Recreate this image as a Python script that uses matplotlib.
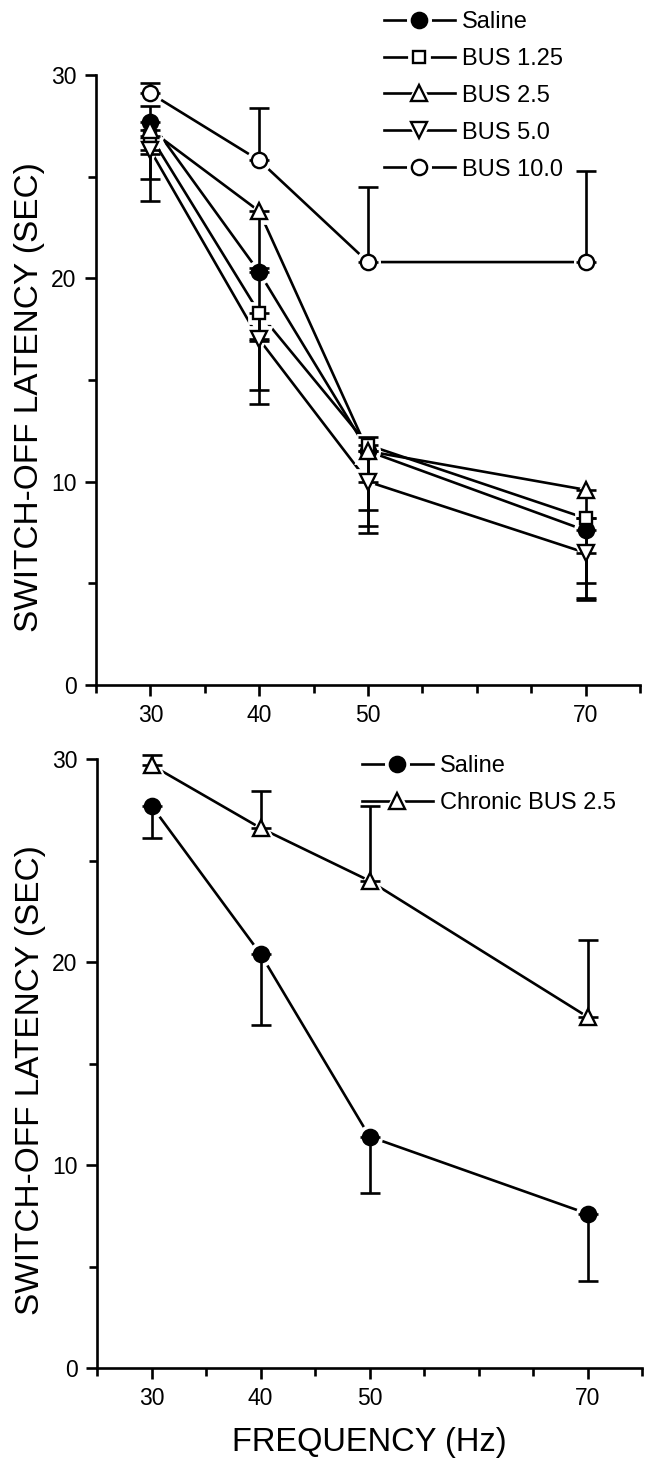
import numpy as np
import matplotlib
matplotlib.use("Agg")
import matplotlib.pyplot as plt
from matplotlib.ticker import MultipleLocator
from matplotlib.legend_handler import HandlerTuple

plt.rcParams['font.family'] = ['Liberation Sans', 'DejaVu Sans']

freq = [30, 40, 50, 70]

# top panel: means and one-sided error bar ends
top_names = ['Saline', 'BUS 1.25', 'BUS 2.5', 'BUS 5.0', 'BUS 10.0']
top_means = [
    [27.7, 20.3, 11.5, 7.6],
    [27.0, 18.3, 11.8, 8.2],
    [27.3, 23.3, 11.5, 9.6],
    [26.3, 17.0, 10.0, 6.5],
    [29.1, 25.8, 20.8, 20.8],
]
top_lower = [
    [26.1, 16.9, 8.6, 4.3],
    [24.9, 14.5, 7.8, 5.0],
    [27.3, 20.5, 11.5, 8.2],
    [23.8, 13.8, 7.5, 4.2],
    [29.1, 25.8, 20.8, 20.8],
]
top_upper = [
    [27.7, 20.3, 11.5, 7.6],
    [27.0, 18.3, 11.8, 8.2],
    [28.5, 23.3, 12.2, 9.6],
    [26.3, 17.0, 10.0, 6.5],
    [29.6, 28.4, 24.5, 25.3],
]

# bottom panel
bot_names = ['Saline', 'Chronic BUS 2.5']
bot_means = [
    [27.7, 20.4, 11.4, 7.6],
    [29.7, 26.6, 24.0, 17.3],
]
bot_lower = [
    [26.1, 16.9, 8.6, 4.3],
    [29.7, 26.6, 24.0, 17.3],
]
bot_upper = [
    [27.7, 20.4, 11.4, 7.6],
    [30.2, 28.4, 27.7, 21.1],
]

styles = {
    'Saline': dict(marker='o', mfc='black', ms=11),
    'BUS 1.25': dict(marker='s', mfc='white', ms=9),
    'BUS 2.5': dict(marker='^', mfc='white', ms=12),
    'BUS 5.0': dict(marker='v', mfc='white', ms=12),
    'BUS 10.0': dict(marker='o', mfc='white', ms=11),
    'Chronic BUS 2.5': dict(marker='^', mfc='white', ms=12),
}

LW = 1.9


def draw_panel(ax, names, means, lower, upper):
    handles = []
    for name, m, lo, up in zip(names, means, lower, upper):
        st = styles[name]
        m = np.array(m)
        ln, = ax.plot(freq, m, color='black', lw=LW, zorder=1)
        halo, = ax.plot(freq, m, ls='none', marker=st['marker'], ms=st['ms'] + 5,
                        mfc='white', mec='white', mew=2, zorder=2, clip_on=False)
        yerr = [m - np.array(lo), np.array(up) - m]
        ax.errorbar(freq, m, yerr=yerr, fmt='none', ecolor='black', elinewidth=LW,
                    capsize=7, capthick=LW, zorder=3, clip_on=False)
        mk, = ax.plot(freq, m, ls='none', marker=st['marker'], ms=st['ms'],
                      mfc=st['mfc'], mec='black', mew=1.7, zorder=4, clip_on=False)
        handles.append((ln, halo, mk))
    ax.set_xlim(25, 75)
    ax.set_ylim(0, 30)
    ax.xaxis.set_major_locator(MultipleLocator(10))
    ax.xaxis.set_minor_locator(MultipleLocator(5))
    ax.yaxis.set_major_locator(MultipleLocator(10))
    ax.yaxis.set_minor_locator(MultipleLocator(5))
    ax.set_xticks([30, 40, 50, 70])
    ax.spines['top'].set_visible(False)
    ax.spines['right'].set_visible(False)
    for s in ['left', 'bottom']:
        ax.spines[s].set_linewidth(LW)
    ax.tick_params(which='major', direction='out', length=8, width=LW, labelsize=16.5, pad=6)
    ax.tick_params(which='minor', direction='out', length=6, width=LW)
    ax.set_ylabel('SWITCH-OFF LATENCY (SEC)', fontsize=24)
    ax.yaxis.set_label_coords(-0.093, 0.472)
    return handles


fig = plt.figure(figsize=(6.51, 14.65), dpi=100)
W, H = 651.0, 1465.0

ax1 = fig.add_axes([96 / W, 1 - 685 / H, (640 - 96) / W, (685 - 75) / H])
h1 = draw_panel(ax1, top_names, top_means, top_lower, top_upper)

ax2 = fig.add_axes([97 / W, 1 - 1368 / H, (642 - 97) / W, (1368 - 759) / H])
h2 = draw_panel(ax2, bot_names, bot_means, bot_lower, bot_upper)
ax2.set_xlabel('FREQUENCY (Hz)', fontsize=23.5, labelpad=12)

for ax, hs, names, anchor in [(ax1, h1, top_names, (384 / W, 1 - 11 / H)),
                              (ax2, h2, bot_names, (362 / W, 1 - 755 / H))]:
    fig.legend(hs, names, loc='upper left', bbox_to_anchor=anchor, frameon=False,
               fontsize=17, handlelength=3.0, handletextpad=0.3, labelspacing=0.63,
               borderpad=0, borderaxespad=0,
               handler_map={tuple: HandlerTuple(ndivide=1)})

fig.savefig('out.png', dpi=100)
